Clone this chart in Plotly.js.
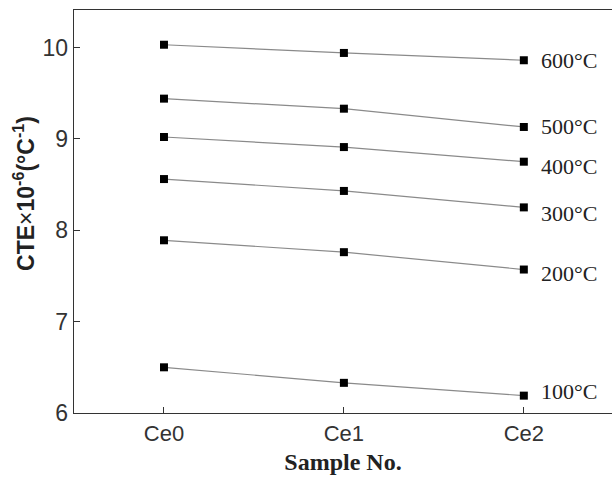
<!DOCTYPE html>
<html><head><meta charset="utf-8">
<script src="https://cdn.plot.ly/plotly-3.0.1.min.js"></script>
<style>body{margin:0;padding:0;background:#fff}#plot{width:612px;height:481px}</style>
</head><body><div id="plot"></div>
<script>
var samples = ["Ce0", "Ce1", "Ce2"];
var temperatures = ["100°C", "200°C", "300°C", "400°C", "500°C", "600°C"];
var cte100 = [6.50, 6.33, 6.19];
var cte200 = [7.89, 7.76, 7.57];
var cte300 = [8.56, 8.43, 8.25];
var cte400 = [9.02, 8.91, 8.75];
var cte500 = [9.44, 9.33, 9.13];
var cte600 = [10.03, 9.94, 9.86];
var series = [cte100, cte200, cte300, cte400, cte500, cte600];
var labelShift = [4, -4, -6, -5, 0, 0];

var traces = series.map(function (vals, i) {
  return {
    x: samples, y: vals, type: "scatter", mode: "lines+markers",
    name: temperatures[i], showlegend: false,
    line: {color: "#8a8a8a", width: 1.2},
    marker: {symbol: "square", size: 8, color: "#000"}
  };
});

var annotations = series.map(function (vals, i) {
  return {
    x: 2.085, y: vals[vals.length - 1], xref: "x", yref: "y",
    text: temperatures[i], showarrow: false, xanchor: "left", yanchor: "middle",
    yshift: labelShift[i],
    font: {family: "Liberation Serif, Times New Roman, serif", size: 22, color: "#222"}
  };
});
annotations.push({
  xref: "paper", yref: "paper", x: -0.093, y: 0.546, xanchor: "center", yanchor: "middle",
  textangle: -90, showarrow: false,
  text: "<b>CTE</b>×<b>10<sup>-6</sup>(°C<sup>-1</sup>)</b>",
  font: {family: "Liberation Sans, Arial, sans-serif", size: 23, color: "#222"}
});

var layout = {
  width: 612, height: 481,
  margin: {l: 74, r: 0, t: 10, b: 68},
  paper_bgcolor: "#fff", plot_bgcolor: "#fff",
  xaxis: {
    type: "category", range: [-0.5, 2.49],
    showline: true, linecolor: "#333", linewidth: 1.3, mirror: true,
    ticks: "inside", ticklen: 6, tickcolor: "#333",
    showgrid: false, zeroline: false,
    tickfont: {family: "Liberation Sans, Arial, sans-serif", size: 22, color: "#333"},
    title: {text: "<b>Sample No.</b>", standoff: 8,
      font: {family: "Liberation Serif, Times New Roman, serif", size: 24, color: "#222"}}
  },
  yaxis: {
    range: [6, 10.41], dtick: 1,
    showline: true, linecolor: "#333", linewidth: 1.3, mirror: false,
    ticks: "inside", ticklen: 6, tickcolor: "#333",
    showgrid: false, zeroline: false,
    tickfont: {family: "Liberation Sans, Arial, sans-serif", size: 23, color: "#333"}
  },
  annotations: annotations
};

Plotly.newPlot("plot", traces, layout, {displayModeBar: false, staticPlot: true});
</script></body></html>
